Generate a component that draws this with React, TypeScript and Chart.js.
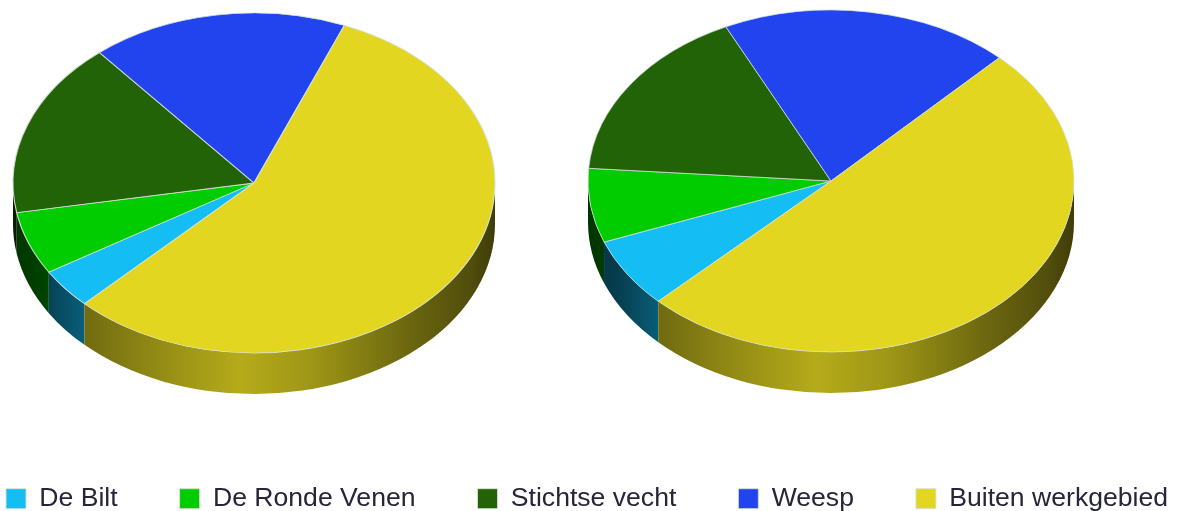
import React, { useEffect, useRef } from "react";
import { Chart, registerables } from "chart.js";

Chart.register(...registerables);

const categories = ["De Bilt", "De Ronde Venen", "Stichtse vecht", "Weesp", "Buiten werkgebied"];
const leftValues = [3.8, 6.0, 16.7, 17.2, 56.3];
const rightValues = [6.6, 7.0, 16.7, 19.3, 50.4];
const colors = ["#14BEF5", "#00CC00", "#236308", "#2244EE", "#E2D620"];
const edgeColor = "rgba(214,226,214,0.9)";

const shadeStops = [
  [0, 0.26],
  [0.06, 0.32],
  [0.15, 0.5],
  [0.3, 0.65],
  [0.47, 0.8],
  [0.62, 0.7],
  [0.82, 0.48],
  [0.95, 0.36],
  [1, 0.28],
];

function shade(hex: string, f: number) {
  const n = parseInt(hex.slice(1), 16);
  const r = Math.round(((n >> 16) & 255) * f);
  const g = Math.round(((n >> 8) & 255) * f);
  const b = Math.round((n & 255) * f);
  return `rgb(${r},${g},${b})`;
}

const pie3d = {
  id: "pie3d",
  beforeDatasetDraw(chart: any, _args: any, o: any) {
    const ctx = chart.ctx;
    const arcs = chart.getDatasetMeta(0).data;
    if (!arcs.length) return;
    const { cx, cy, rx, ry, depth } = o;
    arcs.forEach((el: any, i: number) => {
      const g = ctx.createLinearGradient(cx - rx, 0, cx + rx, 0);
      shadeStops.forEach(([t, f]) => g.addColorStop(t, shade(colors[i], f)));
      for (let k = -1; k <= 2; k++) {
        const a = Math.max(el.startAngle + k * 2 * Math.PI, 0);
        const b = Math.min(el.endAngle + k * 2 * Math.PI, Math.PI);
        if (b <= a) continue;
        ctx.beginPath();
        ctx.ellipse(cx, cy, rx, ry, 0, a, b);
        ctx.ellipse(cx, cy + depth, rx, ry, 0, b, a, true);
        ctx.closePath();
        ctx.fillStyle = g;
        ctx.fill();
      }
    });
    const R = arcs[0].outerRadius;
    ctx.save();
    ctx.translate(cx, cy);
    ctx.scale(rx / R, ry / R);
    ctx.translate(-arcs[0].x, -arcs[0].y);
  },
  afterDatasetDraw(chart: any) {
    chart.ctx.restore();
  },
};

const legendShift = 56;

function makeChart(canvas: HTMLCanvasElement, values: number[], rotation: number, geom: any, legend: boolean) {
  return new Chart(canvas, {
    type: "pie",
    data: {
      labels: categories,
      datasets: [
        {
          data: values,
          backgroundColor: colors,
          borderColor: edgeColor,
          borderWidth: 1,
          clip: false,
        } as any,
      ],
    },
    options: {
      animation: false,
      responsive: false,
      rotation,
      plugins: {
        tooltip: { enabled: false },
        legend: {
          display: legend,
          position: "bottom",
          align: "start",
          labels: {
            color: "#26263a",
            boxWidth: 20,
            boxHeight: 20,
            padding: 62,
            font: { family: "Liberation Sans", size: 26.6 },
          },
        },
        pie3d: geom,
      } as any,
    },
    plugins: [pie3d],
  });
}

export default function App() {
  const leftRef = useRef<HTMLCanvasElement>(null);
  const rightRef = useRef<HTMLCanvasElement>(null);
  useEffect(() => {
    const a = makeChart(
      leftRef.current!,
      leftValues,
      224.7,
      { cx: 254 + legendShift, cy: 183, rx: 241, ry: 170, depth: 41 },
      true
    );
    const b = makeChart(rightRef.current!, rightValues, 225.3, { cx: 831, cy: 181, rx: 243, ry: 171, depth: 41 }, false);
    return () => {
      a.destroy();
      b.destroy();
    };
  }, []);
  return (
    <div
      style={{
        position: "fixed",
        left: 0,
        top: 0,
        width: 1179,
        height: 511,
        overflow: "hidden",
        background: "#fff",
        filter: "blur(0.5px)",
      }}
    >
      <canvas ref={leftRef} width={1400} height={522} style={{ position: "absolute", left: -legendShift, top: 0 }} />
      <canvas ref={rightRef} width={1179} height={511} style={{ position: "absolute", left: 0, top: 0 }} />
    </div>
  );
}
